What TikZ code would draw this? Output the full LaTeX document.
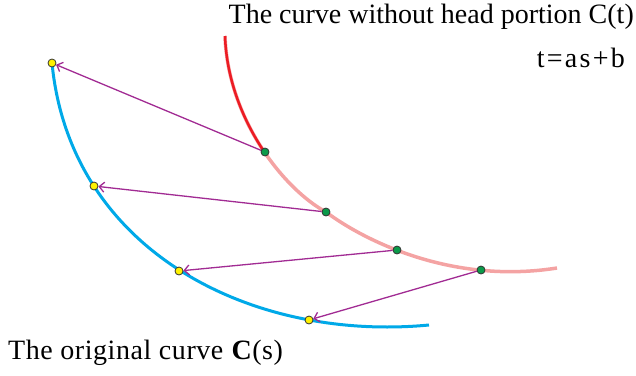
\documentclass[tikz,border=0pt]{standalone}
\usepackage{fontspec}
\setmainfont{Liberation Serif}
\newfontfamily\spacedA[LetterSpace=8]{Liberation Serif}
\newfontfamily\spacedB[LetterSpace=2]{Liberation Serif}
\usetikzlibrary{arrows.meta}
\definecolor{cblue}{HTML}{00A9E8}
\definecolor{cred}{HTML}{EC1C24}
\definecolor{cpink}{HTML}{F4A3A3}
\definecolor{cpurple}{HTML}{A12B93}
\definecolor{cgreen}{HTML}{0B9A4A}
\definecolor{cyellow}{HTML}{FFF200}
\tikzset{
  gdot/.style={circle, draw=black!80, line width=0.8pt, fill=cgreen, minimum size=8pt, inner sep=0pt},
  ydot/.style={circle, draw=black!80, line width=0.8pt, fill=cyellow, minimum size=8pt, inner sep=0pt},
  arr/.style={draw=cpurple, line width=1.3pt, -{Straight Barb[length=5pt,width=10pt]}},
  lbl/.style={font=\fontsize{28}{32}\selectfont, inner sep=0pt}
}
\begin{document}
\begin{tikzpicture}[x=1pt,y=-1pt]
\useasboundingbox (0,0) rectangle (636,375);
% blue original curve
\draw[cblue, line width=3pt] (52,63) .. controls (70,250) and (250,342) .. (429,325);
% pink full curve
\draw[cpink, line width=3.5pt] (225,36) .. controls (228,120) and (285,190) .. (326,212) .. controls (362,239) and (450,285) .. (557,268);
% red head portion
\begin{scope}
\clip (0,0) rectangle (320,152);
\draw[cred, line width=2.5pt] (225,36) .. controls (228,120) and (285,190) .. (326,212);
\end{scope}
% points
\node[gdot] (g1) at (265,152) {};
\node[gdot] (g2) at (326,212) {};
\node[gdot] (g3) at (397,250) {};
\node[gdot] (g4) at (481,270) {};
\node[ydot] (y1) at (52,63) {};
\node[ydot] (y2) at (94,186) {};
\node[ydot] (y3) at (179,271) {};
\node[ydot] (y4) at (309,320) {};
% arrows
\draw[arr] (g1) -- (y1);
\draw[arr] (g2) -- (y2);
\draw[arr] (g3) -- (y3);
\draw[arr] (g4) -- (y4);
% labels
\node[lbl, anchor=base east] (t1) at (634,23) {The curve without head portion C(t)};
\node[lbl, anchor=base east] (t2) at (625,67) {\spacedA t=as+b};
\node[lbl, anchor=base west] (t3) at (8,359) {\spacedB The original curve \textbf{C}(s)};
\end{tikzpicture}
\end{document}
